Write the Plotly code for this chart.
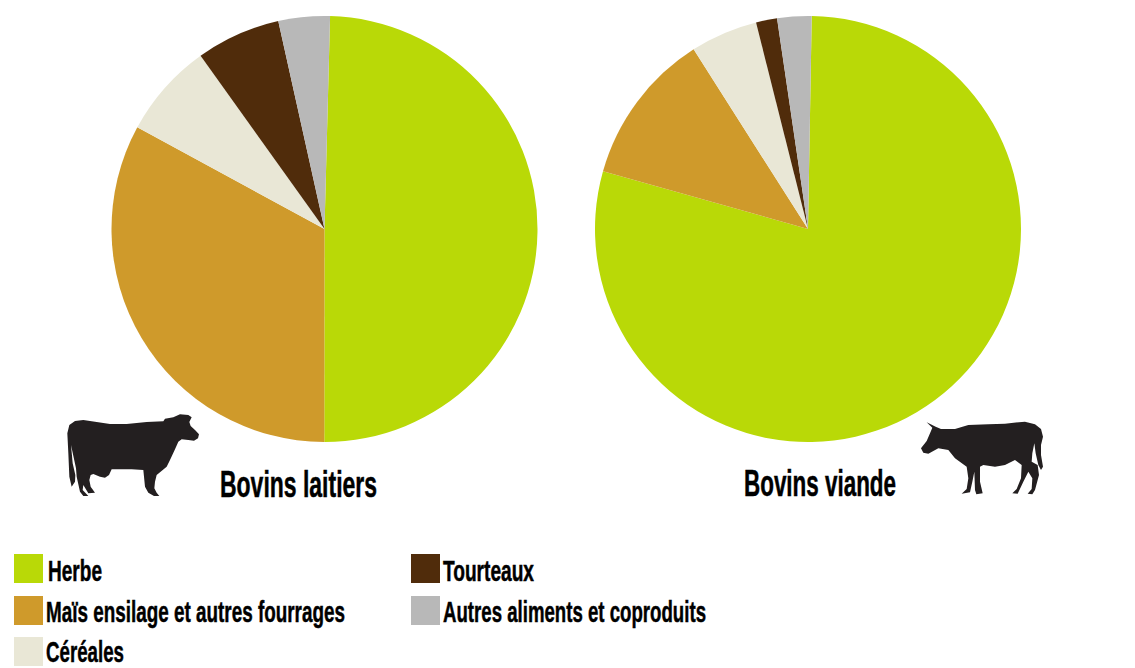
import json
import plotly.graph_objects as go

W, H = 1135, 668
categories = ["Herbe", "Maïs ensilage et autres fourrages", "Céréales", "Tourteaux", "Autres aliments et coproduits"]
colors = ["#b9d907", "#cf9a2b", "#e9e7d6", "#502c0b", "#b8b8b8"]
laitiers_values = [49.6, 32.9, 7.2, 6.4, 3.9]
viande_values = [79.1, 11.6, 5.1, 1.6, 2.6]
titles = ["Bovins laitiers", "Bovins viande"]
FONT = "Liberation Sans"

def px(x): return x / W
def py(y): return 1 - y / H

def poly_path(points):
    pts = [(px(x), py(y)) for x, y in points]
    return "M " + " L ".join(f"{x:.5f} {y:.5f}" for x, y in pts) + " Z"

cow_left_z = [(22,70),(28,45),(45,33),(70,30),(110,36),(150,42),(200,42),(260,36),(310,34),(315,26),(340,22),(360,13),(385,15),(395,22),(388,36),(392,48),(405,60),(417,73),(414,85),(402,92),(385,90),(365,88),(355,95),(345,118),(330,150),(320,170),(290,195),(285,215),(283,235),(290,248),(298,258),(282,258),(265,248),(255,230),(250,180),(215,178),(155,178),(147,195),(135,203),(120,200),(100,192),(92,195),(88,210),(92,230),(105,248),(85,250),(70,225),(68,240),(85,258),(70,258),(60,245),(50,200),(48,175),(33,105),(38,160),(46,195),(45,215),(35,230),(28,200),(25,130)]
cow_right_z = [(35,22),(62,35),(78,42),(120,42),(160,30),(220,28),(270,26),(330,20),(360,28),(378,42),(384,65),(378,90),(378,120),(384,155),(378,165),(370,150),(362,115),(358,85),(352,115),(350,140),(368,150),(372,180),(360,225),(352,238),(338,236),(350,222),(352,190),(340,170),(325,200),(308,236),(292,235),(305,222),(318,190),(320,150),(300,135),(270,150),(240,155),(205,150),(195,155),(195,200),(203,235),(184,238),(180,225),(178,170),(172,200),(165,232),(140,236),(155,222),(160,190),(155,155),(120,130),(100,105),(70,100),(40,116),(25,113),(18,100),(35,78),(47,50),(52,38)]
cow_left = [(60 + x / 3, 410 + y / 3) for x, y in cow_left_z]
cow_right = [(915 + x / 3, 415 + y / 3) for x, y in cow_right_z]

fig = go.Figure()
for vals, name, x0, x1, rot in [(laitiers_values, titles[0], 111, 538, 1.5), (viande_values, titles[1], 595, 1021, 1)]:
    fig.add_trace(go.Pie(labels=categories, values=vals, name=name, sort=False, direction="clockwise",
                         rotation=rot, marker=dict(colors=colors, line=dict(width=0)), textinfo="none",
                         domain=dict(x=[px(x0), px(x1)], y=[py(442), py(16)]), showlegend=False))

shapes, annos, fits = [], [], []
for pts in (cow_left, cow_right):
    shapes.append(dict(type="path", xref="paper", yref="paper", path=poly_path(pts), fillcolor="#231f20", line=dict(width=0)))

# legend: swatch (x, top), text x, baseline, text width
legend_pos = [(14, 554, 48, 581, 54), (14, 596, 46, 622, 299), (14, 637, 46, 662, 78), (411, 554, 443, 581, 91), (411, 596, 443, 622, 263)]
for cat, col, (sx, sy, tx, base, tw) in zip(categories, colors, legend_pos):
    shapes.append(dict(type="rect", xref="paper", yref="paper", x0=px(sx), x1=px(sx + 29), y0=py(sy + 29), y1=py(sy), fillcolor=col, line=dict(width=0)))
    annos.append(dict(text=cat, x=px(tx), y=py(base + 7), xref="paper", yref="paper", xanchor="left", yanchor="bottom",
                      showarrow=False, borderpad=0, font=dict(family=FONT, size=30, color="#000000", weight="bold")))
    fits.append([tx, tw])
for t, tx, base, tw in [(titles[0], 220, 498, 157), (titles[1], 744, 497, 152)]:
    annos.append(dict(text=t, x=px(tx), y=py(base + 8), xref="paper", yref="paper", xanchor="left", yanchor="bottom",
                      showarrow=False, borderpad=0, font=dict(family=FONT, size=36, color="#000000", weight="bold")))
    fits.append([tx, tw])

fig.update_layout(width=W, height=H, margin=dict(l=0, r=0, t=0, b=0), paper_bgcolor="white",
                  shapes=shapes, annotations=annos)

post = ("document.body.style.margin='0';"
        "var f=" + json.dumps(fits) + ";"
        "document.querySelectorAll('.annotation-text').forEach(function(t,i){"
        "t.setAttribute('textLength',f[i][1]);t.setAttribute('lengthAdjust','spacingAndGlyphs');"
        "t.setAttribute('text-anchor','start');t.style.textAnchor='start';"
        "t.style.stroke='#000';t.style.strokeWidth='0.5px';"
        "var x0=parseFloat(t.getAttribute('x'))||0;"
        "var r=t.getBoundingClientRect();"
        "t.setAttribute('x',x0+f[i][0]-r.left);"
        "var g=t.closest('.annotation');var b=g&&g.querySelector('rect.bg');"
        "if(b){b.setAttribute('width',f[i][1]);}});")
fig.write_html("out.html", post_script=post, config={"displayModeBar": False})
